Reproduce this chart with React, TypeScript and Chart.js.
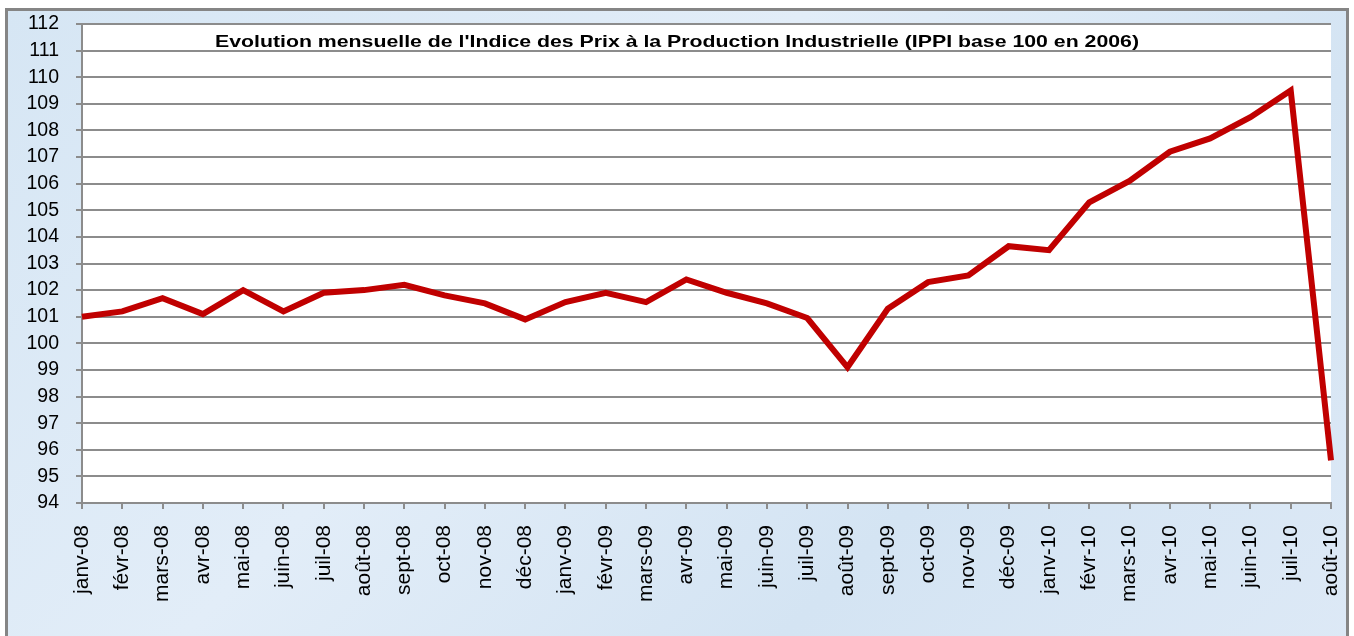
import React, { useEffect, useRef } from "react";
import { Chart, registerables } from "chart.js";

Chart.register(...registerables);

const categories = [
  "janv-08", "févr-08", "mars-08", "avr-08", "mai-08", "juin-08", "juil-08", "août-08",
  "sept-08", "oct-08", "nov-08", "déc-08", "janv-09", "févr-09", "mars-09", "avr-09",
  "mai-09", "juin-09", "juil-09", "août-09", "sept-09", "oct-09", "nov-09", "déc-09",
  "janv-10", "févr-10", "mars-10", "avr-10", "mai-10", "juin-10", "juil-10", "août-10",
];

const ippiValues = [
  101.0, 101.2, 101.7, 101.1, 102.0, 101.2, 101.9, 102.0,
  102.2, 101.8, 101.5, 100.9, 101.55, 101.9, 101.55, 102.4,
  101.9, 101.5, 100.95, 99.1, 101.3, 102.3, 102.55, 103.65,
  103.5, 105.3, 106.1, 107.2, 107.7, 108.5, 109.5, 95.6,
];

const yMin = 94;
const yMax = 112;
const titleText =
  "Evolution mensuelle de l'Indice des Prix à la Production Industrielle (IPPI base 100 en 2006)";

const FONT = "'Liberation Sans', Arial, sans-serif";

const plotBg = {
  id: "plotBg",
  beforeDraw(chart: any) {
    const { ctx, chartArea } = chart;
    ctx.save();
    ctx.fillStyle = "#ffffff";
    ctx.fillRect(chartArea.left, chartArea.top, chartArea.right - chartArea.left, chartArea.bottom - chartArea.top);
    ctx.restore();
  },
  afterDraw(chart: any) {
    const { ctx, chartArea } = chart;
    ctx.save();
    ctx.fillStyle = "#000000";
    ctx.font = "bold 17px " + FONT;
    const w = ctx.measureText(titleText).width;
    const sx = 924 / w;
    ctx.translate(677, chartArea.top + 23);
    ctx.scale(sx, 1);
    ctx.textAlign = "center";
    ctx.textBaseline = "alphabetic";
    ctx.fillText(titleText, 0, 0);
    ctx.restore();
  },
};

export default function App() {
  const ref = useRef<HTMLCanvasElement | null>(null);
  useEffect(() => {
    if (!ref.current) return;
    const chart = new Chart(ref.current, {
      type: "line",
      data: {
        labels: categories,
        datasets: [
          {
            data: ippiValues,
            borderColor: "#c00000",
            borderWidth: 6,
            pointRadius: 0,
            tension: 0,
            fill: false,
            borderJoinStyle: "miter",
          },
        ],
      },
      options: {
        animation: false,
        responsive: false,
        maintainAspectRatio: false,
        layout: { padding: { left: 0, top: 24, right: 23, bottom: 0 } },
        plugins: { legend: { display: false }, tooltip: { enabled: false }, title: { display: false } },
        scales: {
          x: {
            offset: false,
            grid: { drawOnChartArea: false, drawTicks: true, tickLength: 6, color: "#8c8c8c", lineWidth: 2 },
            border: { color: "#8c8c8c", width: 2 },
            ticks: {
              autoSkip: false,
              maxRotation: 90,
              minRotation: 90,
              padding: 16,
              color: "#000",
              font: { family: FONT, size: 21 },
            },
            afterFit: (s: any) => {
              s.height = 636 - 503;
              s.paddingLeft = 0;
              s.paddingRight = 0;
            },
          },
          y: {
            min: yMin,
            max: yMax,
            ticks: {
              stepSize: 1,
              autoSkip: false,
              padding: 17,
              color: "#000",
              font: { family: FONT, size: 19.5 },
            },
            grid: { color: "#8c8c8c", lineWidth: 2, tickLength: 6 },
            border: { color: "#8c8c8c", width: 2 },
            afterFit: (s: any) => {
              s.width = 82;
              s.paddingTop = 0;
              s.paddingBottom = 0;
            },
          },
        },
      },
      plugins: [plotBg],
    });
    return () => chart.destroy();
  }, []);

  return (
    <div style={{ position: "fixed", left: 0, top: 0, width: 1354, height: 636, background: "#ffffff", overflow: "hidden" }}>
      <div
        style={{
          position: "absolute",
          left: 5,
          top: 8,
          width: 1338,
          height: 660,
          border: "3px solid #858585",
          background: "linear-gradient(135deg, #d6e6f4 0%, #e2edf8 40%, #d4e4f3 70%, #dde9f6 100%)",
        }}
      />
      <canvas ref={ref} width={1354} height={636} style={{ position: "absolute", left: 0, top: 0 }} />
    </div>
  );
}
